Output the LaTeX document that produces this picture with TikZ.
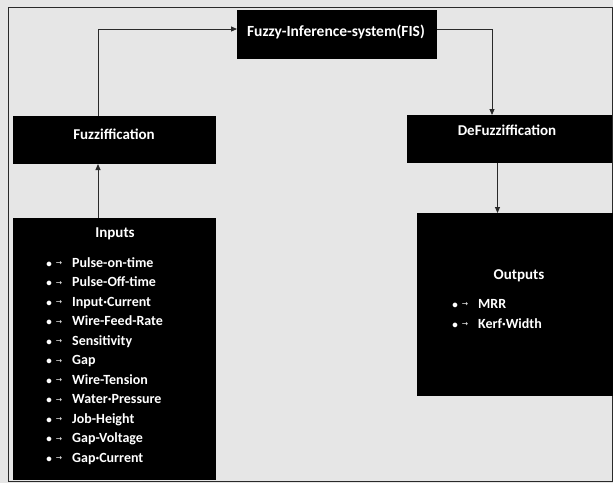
\documentclass[tikz,border=0pt]{standalone}
\usepackage{fontspec}
\setmainfont{Carlito}
\newfontfamily\symfont{DejaVu Sans}
\usetikzlibrary{arrows.meta}
\definecolor{bg}{HTML}{E6E6E6}
\definecolor{ln}{HTML}{2A2A2A}
\tikzset{
  box/.style={draw=none, fill=black, inner sep=0pt, outer sep=0pt, anchor=north west},
  txt/.style={text=white, font=\fontsize{15}{17}\selectfont\bfseries, inner sep=0pt, anchor=base},
  itemtxt/.style={txt, anchor=base west, font=\fontsize{14}{16}\selectfont\bfseries},
  bul/.style={txt, font=\fontsize{11}{12}\selectfont\bfseries},
  arw/.style={text=white, inner sep=0pt, anchor=base, font=\symfont\fontsize{7.5}{8}\selectfont},
  conn/.style={draw=ln, line width=0.9pt},
  arr/.style={conn, -{Triangle[length=6pt,width=5pt]}},
}
\begin{document}
\begin{tikzpicture}[x=1pt,y=-1pt]
  \fill[bg] (0,0) rectangle (613,483);
  \useasboundingbox (0,0) rectangle (613,483);
  \draw[ln, line width=1pt] (8,7) rectangle (612,481);

  % boxes
  \node[box, minimum width=200pt, minimum height=49pt] (fis) at (237,10) {};
  \node[box, minimum width=203pt, minimum height=48pt] (fuzz) at (13,116) {};
  \node[box, minimum width=205pt, minimum height=48pt] (defuzz) at (407,115) {};
  \node[box, minimum width=203pt, minimum height=262pt] (inputs) at (13,218) {};
  \node[box, minimum width=196pt, minimum height=183pt] (outputs) at (417,213) {};

  % titles
  \node[txt, font=\fontsize{15.5}{17}\selectfont\bfseries] (fist) at (336,36) {Fuzzy-Inference-system(FIS)};
  \node[txt] (fuzzt) at (114,139) {Fuzziffication};
  \node[txt] (defuzzt) at (507,135) {DeFuzziffication};
  \node[txt] (inputst) at (115,237) {Inputs};
  \node[txt] (outputst) at (519,279) {Outputs};

  % input items
  \foreach \t [count=\i from 0] in {Pulse-on-time, Pulse-Off-time, Input·Current, Wire-Feed-Rate, Sensitivity, Gap, Wire-Tension, Water·Pressure, Job-Height, Gap-Voltage, Gap·Current} {
    \node[bul] (ib\i) at (49,{267+19.5*\i}) {•};
    \node[arw] (ia\i) at (59,{265.5+19.5*\i}) {→};
    \node[itemtxt] (it\i) at (72,{267+19.5*\i}) {\t};
  }

  % output items
  \foreach \t [count=\i from 0] in {MRR, Kerf·Width} {
    \node[bul] (ob\i) at (455,{308+20*\i}) {•};
    \node[arw] (oa\i) at (465,{306.5+20*\i}) {→};
    \node[itemtxt] (ot\i) at (478,{308+20*\i}) {\t};
  }

  % connectors
  \draw[arr] ([xshift=-16.5pt]fuzz.north) |- ([yshift=5.5pt]fis.west);
  \draw[arr] ([yshift=5.5pt]fis.east) -| ([xshift=-17.5pt]defuzz.north);
  \draw[arr] ([xshift=-16.5pt]inputs.north) -- ([xshift=-16.5pt]fuzz.south);
  \draw[arr] ([xshift=-12pt]defuzz.south) -- ([xshift=-12pt]defuzz.south |- outputs.north);
\end{tikzpicture}
\end{document}
